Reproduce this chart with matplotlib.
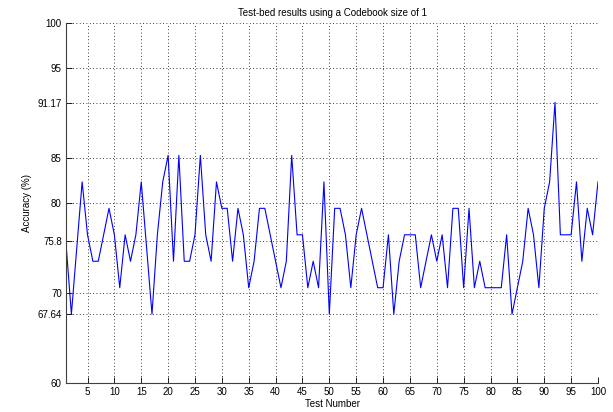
import numpy as np
import matplotlib
matplotlib.use("Agg")
import matplotlib.pyplot as plt

plt.rcParams['font.family'] = ['Liberation Sans', 'DejaVu Sans']

# accuracy per test
accuracy = [
    75.5, 67.65, 75.0, 82.35, 76.47, 73.53, 73.53, 76.47, 79.41, 76.47,
    70.59, 76.47, 73.53, 76.47, 82.35, 75.0, 67.65, 76.47, 82.35, 85.29,
    73.53, 85.29, 73.53, 73.53, 76.47, 85.29, 76.47, 73.53, 82.35, 79.41,
    79.41, 73.53, 79.41, 76.47, 70.59, 73.53, 79.41, 79.41, 76.47, 73.53,
    70.59, 73.53, 85.29, 76.47, 76.47, 70.59, 73.53, 70.59, 82.35, 67.65,
    79.41, 79.41, 76.47, 70.59, 76.47, 79.41, 76.47, 73.53, 70.59, 70.59,
    76.47, 67.65, 73.53, 76.47, 76.47, 76.47, 70.59, 73.53, 76.47, 73.53,
    76.47, 70.59, 79.41, 79.41, 70.59, 79.41, 70.59, 73.53, 70.59, 70.59,
    70.59, 70.59, 76.47, 67.65, 70.59, 73.53, 79.41, 76.47, 70.59, 79.41,
    82.35, 91.18, 76.47, 76.47, 76.47, 82.35, 73.53, 79.41, 76.47, 82.35,
]
tests = np.arange(1, len(accuracy) + 1)

x_ticks = list(range(5, 101, 5))
y_ticks = [60, 67.64, 70, 75.8, 80, 85, 91.17, 95, 100]
y_labels = ['60', '67.64', '70', '75.8', '80', '85', '91.17', '95', '100']

fig = plt.figure(figsize=(6.13, 4.12), dpi=100)
ax = fig.add_axes([0.1077, 0.0704, 0.8678, 0.8736])

ax.plot(tests, accuracy, color='#0000ff', lw=0.8)

ax.set_xlim(1, 100)
ax.set_ylim(60, 100)
ax.set_xticks(x_ticks)
ax.set_yticks(y_ticks)
ax.set_yticklabels(y_labels)

ax.grid(True, color='black', linestyle=(0, (1, 3)), lw=0.6)
for s in ['top', 'right']:
    ax.spines[s].set_visible(False)
for s in ['left', 'bottom']:
    ax.spines[s].set_color('#404040')
    ax.spines[s].set_linewidth(0.8)
ax.tick_params(direction='in', length=4, width=0.6, labelsize=7, pad=3,
               colors='black')

ax.set_xlabel('Test Number', fontsize=7, labelpad=1)
ax.set_ylabel('Accuracy (%)', fontsize=7, labelpad=4)
ax.set_title('Test-bed results using a Codebook size of 1', fontsize=7, pad=5)

fig.savefig('out.png', dpi=100)
